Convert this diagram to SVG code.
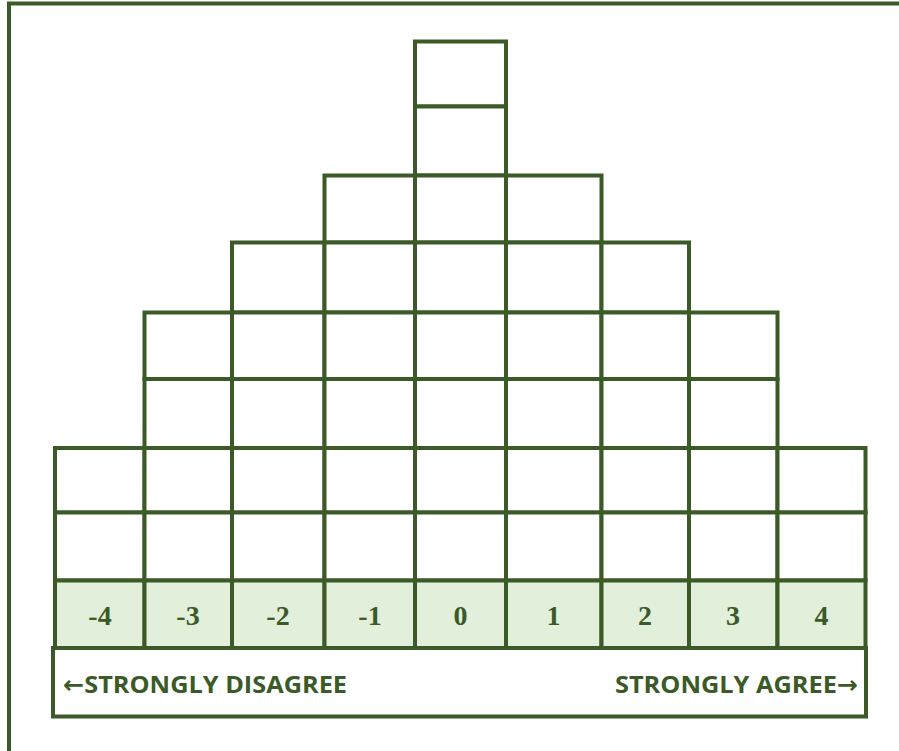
<svg xmlns="http://www.w3.org/2000/svg" width="899" height="751" viewBox="0 0 899 751">
<style>
.c{fill:#ffffff;stroke:#3b5a27;stroke-width:4}
.n{fill:#e2efda;stroke:#3b5a27;stroke-width:4}
.ln{fill:none;stroke:#3b5a27;stroke-width:4}
.num{font-family:"Liberation Serif",serif;font-weight:bold;font-size:28px;fill:#3b5a27;text-anchor:middle}
.lab{font-family:"Open Sans","DejaVu Sans",sans-serif;font-weight:bold;font-size:24px;fill:#3b5a27}
</style>
<rect width="899" height="751" fill="#ffffff"/>
<g id="frame">
<path class="ln" d="M9 751 V3.5 H899" stroke-width="3.5"/>
</g>
<g id="col-m4">
<rect class="c" x="55" y="448" width="89.5" height="64.5"/>
<rect class="c" x="55" y="512.5" width="89.5" height="68"/>
<rect class="n" x="55" y="580.5" width="89.5" height="67.5"/>
<text class="num" x="100" y="625">-4</text>
</g>
<g id="col-m3">
<rect class="c" x="144.5" y="312.5" width="87.5" height="66.5"/>
<rect class="c" x="144.5" y="379" width="87.5" height="69"/>
<rect class="c" x="144.5" y="448" width="87.5" height="64.5"/>
<rect class="c" x="144.5" y="512.5" width="87.5" height="68"/>
<rect class="n" x="144.5" y="580.5" width="87.5" height="67.5"/>
<text class="num" x="188" y="625">-3</text>
</g>
<g id="col-m2">
<rect class="c" x="232" y="242.5" width="92.5" height="70"/>
<rect class="c" x="232" y="312.5" width="92.5" height="66.5"/>
<rect class="c" x="232" y="379" width="92.5" height="69"/>
<rect class="c" x="232" y="448" width="92.5" height="64.5"/>
<rect class="c" x="232" y="512.5" width="92.5" height="68"/>
<rect class="n" x="232" y="580.5" width="92.5" height="67.5"/>
<text class="num" x="278" y="625">-2</text>
</g>
<g id="col-m1">
<rect class="c" x="324.5" y="175.5" width="90.5" height="67"/>
<rect class="c" x="324.5" y="242.5" width="90.5" height="70"/>
<rect class="c" x="324.5" y="312.5" width="90.5" height="66.5"/>
<rect class="c" x="324.5" y="379" width="90.5" height="69"/>
<rect class="c" x="324.5" y="448" width="90.5" height="64.5"/>
<rect class="c" x="324.5" y="512.5" width="90.5" height="68"/>
<rect class="n" x="324.5" y="580.5" width="90.5" height="67.5"/>
<text class="num" x="370" y="625">-1</text>
</g>
<g id="col-0">
<rect class="c" x="415" y="41.5" width="91" height="65"/>
<rect class="c" x="415" y="106.5" width="91" height="69"/>
<rect class="c" x="415" y="175.5" width="91" height="67"/>
<rect class="c" x="415" y="242.5" width="91" height="70"/>
<rect class="c" x="415" y="312.5" width="91" height="66.5"/>
<rect class="c" x="415" y="379" width="91" height="69"/>
<rect class="c" x="415" y="448" width="91" height="64.5"/>
<rect class="c" x="415" y="512.5" width="91" height="68"/>
<rect class="n" x="415" y="580.5" width="91" height="67.5"/>
<text class="num" x="460.5" y="625">0</text>
</g>
<g id="col-p1">
<rect class="c" x="506" y="175.5" width="95.5" height="67"/>
<rect class="c" x="506" y="242.5" width="95.5" height="70"/>
<rect class="c" x="506" y="312.5" width="95.5" height="66.5"/>
<rect class="c" x="506" y="379" width="95.5" height="69"/>
<rect class="c" x="506" y="448" width="95.5" height="64.5"/>
<rect class="c" x="506" y="512.5" width="95.5" height="68"/>
<rect class="n" x="506" y="580.5" width="95.5" height="67.5"/>
<text class="num" x="553.5" y="625">1</text>
</g>
<g id="col-p2">
<rect class="c" x="601.5" y="242.5" width="87.5" height="70"/>
<rect class="c" x="601.5" y="312.5" width="87.5" height="66.5"/>
<rect class="c" x="601.5" y="379" width="87.5" height="69"/>
<rect class="c" x="601.5" y="448" width="87.5" height="64.5"/>
<rect class="c" x="601.5" y="512.5" width="87.5" height="68"/>
<rect class="n" x="601.5" y="580.5" width="87.5" height="67.5"/>
<text class="num" x="645" y="625">2</text>
</g>
<g id="col-p3">
<rect class="c" x="689" y="312.5" width="88.5" height="66.5"/>
<rect class="c" x="689" y="379" width="88.5" height="69"/>
<rect class="c" x="689" y="448" width="88.5" height="64.5"/>
<rect class="c" x="689" y="512.5" width="88.5" height="68"/>
<rect class="n" x="689" y="580.5" width="88.5" height="67.5"/>
<text class="num" x="733" y="625">3</text>
</g>
<g id="col-p4">
<rect class="c" x="777.5" y="448" width="88" height="64.5"/>
<rect class="c" x="777.5" y="512.5" width="88" height="68"/>
<rect class="n" x="777.5" y="580.5" width="88" height="67.5"/>
<text class="num" x="821.5" y="625">4</text>
</g>
<g id="scale-bar">
<rect class="c" x="53" y="648" width="813" height="68.5"/>
<text class="lab" x="63" y="693" textLength="284" lengthAdjust="spacingAndGlyphs">←STRONGLY DISAGREE</text>
<text class="lab" x="615" y="693" textLength="243" lengthAdjust="spacingAndGlyphs">STRONGLY AGREE→</text>
</g>
</svg>
